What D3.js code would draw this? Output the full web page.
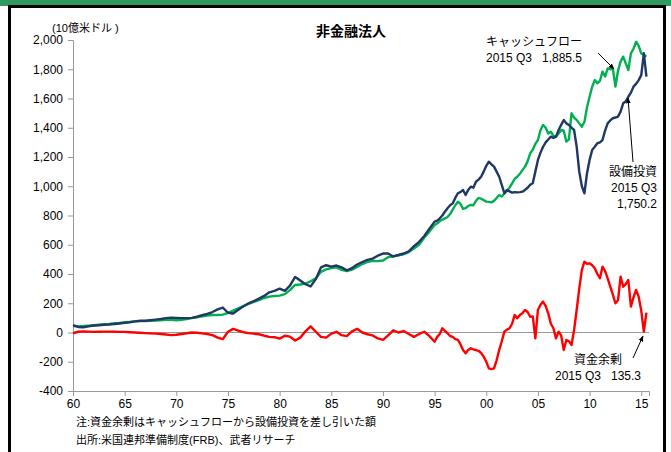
<!DOCTYPE html>
<html>
<head>
<meta charset="utf-8">
<script src="https://cdn.jsdelivr.net/npm/d3@7"></script>
<style>
  body { margin: 0; background: #fff; }
  svg { display: block; font-family: "Liberation Sans", Arial, "Noto Sans CJK JP", sans-serif; }
</style>
</head>
<body>
<svg id="chart" width="671" height="452"></svg>
<script>
// half-year points up to 1994, quarterly points from 1995 (Q3 2015 = 2015.5)
const dates = d3.range(1960, 1995, 0.5).concat(d3.range(1995, 2015.75, 0.25));

// cash flow (green), 10 bn USD
const cashFlow = [
  44, 42, 44, 47, 50, 53, 56, 59, 63, 66,
  70, 73, 76, 78, 78, 80, 82, 84, 86, 86,
  84, 86, 92, 98, 104, 110, 116, 120, 120, 122,
  135, 150, 165, 180, 195, 210, 222, 236, 245, 250,
  252, 262, 290, 325, 328, 335, 350, 370, 415, 432,
  440, 445, 428, 420, 430, 448, 468, 482, 490, 488,
  492, 515, 520, 528, 535, 550, 575, 600, 650, 690,
  735, 745, 760, 772, 780, 790, 810, 840, 870, 894, 880, 845,
  850, 865, 872, 870, 900, 920, 915, 905, 895, 893, 890, 900,
  920, 940, 930, 950, 970, 990, 1020, 1050, 1065, 1085, 1110, 1134,
  1170, 1225, 1250, 1290, 1316, 1385, 1419, 1400, 1360, 1373, 1345, 1339,
  1360, 1385, 1380, 1305, 1320, 1499, 1470, 1453, 1430, 1407, 1440, 1540,
  1612, 1680, 1726, 1704, 1720, 1784, 1750, 1806, 1800, 1806, 1681, 1790,
  1852, 1886, 1840, 1795, 1909, 1940, 1988, 1960, 1909, 1900, 1885.5
];

// capital expenditure (navy)
const capex = [
  50, 38, 36, 42, 48, 50, 53, 55, 58, 62,
  66, 70, 76, 80, 80, 84, 88, 92, 98, 102,
  100, 98, 98, 100, 108, 118, 128, 140, 158, 170,
  135, 130, 155, 180, 200, 215, 232, 250, 275, 285,
  300, 285, 320, 380, 355, 330, 315, 365, 445, 460,
  450, 458, 445, 425, 440, 465, 482, 496, 505, 525,
  540, 540, 520, 530, 540, 555, 590, 620, 660, 710,
  758, 765, 781, 800, 826, 850, 870, 883, 920, 952, 960, 974,
  940, 975, 997, 990, 1031, 1045, 1065, 1100, 1140, 1168, 1150, 1134,
  1100, 1065, 1010, 952, 974, 965, 956, 960, 958, 960, 963, 975,
  990, 1010, 1020, 1100, 1180, 1230, 1270, 1300, 1320, 1339, 1330, 1339,
  1385, 1420, 1453, 1430, 1419, 1400, 1385, 1270, 1100, 1000, 952, 1089,
  1180, 1248, 1270, 1294, 1300, 1316, 1380, 1430, 1450, 1465, 1470, 1476,
  1510, 1567, 1580, 1612, 1640, 1681, 1700, 1726, 1760, 1909, 1750.2
];

// financial surplus (red)
const surplus = [
  -5, 5, 8, 6, 4, 5, 6, 6, 5, 4,
  4, 2, 0, -2, -4, -6, -8, -10, -14, -18,
  -15, -10, -5, 0, -2, -6, -10, -18, -35, -45,
  5, 25, 12, 2, -4, -8, -12, -22, -30, -32,
  -42, -22, -28, -55, -35, 8, 42, 5, -30, -35,
  -8, 5, -18, -25, 8, 25, 0, -12, -20, -40,
  -50, -20, 15, 0, 10, -10, -30, -10, 5, -25,
  -63, -30, -10, 29, 10, -5, -24, -30, -45, -51, -80, -120,
  -142, -120, -108, -115, -120, -125, -140, -165, -200, -245, -250, -245,
  -190, -120, -60, 6, 20, 29, 60, 120, 97, 120, 131, 154,
  140, 108, 110, -40, 154, 190, 211, 180, 131, 60, 29, -40,
  6, -20, -120, -51, -60, -85, 17, 154, 300, 427, 484, 470,
  473, 460, 439, 400, 371, 450, 420, 370, 313, 260, 200, 220,
  382, 313, 330, 359, 177, 240, 291, 245, 150, 6, 135.3
];

const yTicks = d3.range(-400, 2001, 200);
const xTicks = d3.range(1960, 2016, 5);

const svg = d3.select('#chart');

// frame
svg.append('rect').attr('x', 0).attr('y', 0).attr('width', 671).attr('height', 6).attr('fill', '#2e9a5f');
svg.append('line').attr('x1', 8).attr('x2', 666).attr('y1', 6.5).attr('y2', 6.5).attr('stroke', '#000').attr('stroke-width', 3);
svg.append('line').attr('x1', 9.5).attr('x2', 9.5).attr('y1', 5).attr('y2', 452).attr('stroke', '#000').attr('stroke-width', 3);
svg.append('line').attr('x1', 664.5).attr('x2', 664.5).attr('y1', 5).attr('y2', 452).attr('stroke', '#000').attr('stroke-width', 3);

const x = d3.scaleLinear().domain([1960, 2015.75]).range([73, 649]);
const y = d3.scaleLinear().domain([-400, 2000]).range([391, 40]);

// y axis
const yAxis = svg.append('g')
  .attr('transform', 'translate(73,0)')
  .call(d3.axisLeft(y).tickValues(yTicks).tickSize(5).tickPadding(5)
    .tickFormat(d => d3.format(',')(d).replace('−', '-')));
yAxis.select('.domain').attr('stroke', '#999');
yAxis.selectAll('.tick line').attr('stroke', '#999');
yAxis.selectAll('.tick text').attr('fill', '#000').style('font-size', '12px');

// x axis
const xAxis = svg.append('g')
  .attr('transform', 'translate(0,391)')
  .call(d3.axisBottom(x).tickValues(xTicks).tickSize(5).tickPadding(3)
    .tickFormat(d => d3.format('02d')(d % 100)));
xAxis.select('.domain').attr('stroke', '#999');
xAxis.selectAll('.tick line').attr('stroke', '#999');
xAxis.selectAll('.tick text').attr('fill', '#000').style('font-size', '12px');

// zero line
svg.append('line')
  .attr('x1', x(1960)).attr('x2', x(2015.75))
  .attr('y1', y(0)).attr('y2', y(0))
  .attr('stroke', '#999').attr('stroke-width', 1);

const line = d3.line().x((d, i) => x(dates[i])).y(d => y(d));

svg.append('path').datum(cashFlow).attr('d', line)
  .attr('fill', 'none').attr('stroke', '#00b050').attr('stroke-width', 2.4).attr('stroke-linejoin', 'round');
svg.append('path').datum(capex).attr('d', line)
  .attr('fill', 'none').attr('stroke', '#1f3864').attr('stroke-width', 2.4).attr('stroke-linejoin', 'round');
svg.append('path').datum(surplus).attr('d', line)
  .attr('fill', 'none').attr('stroke', '#ff0000').attr('stroke-width', 2.4).attr('stroke-linejoin', 'round');

// texts
svg.append('text').attr('x', 351).attr('y', 36).attr('text-anchor', 'middle')
  .style('font-size', '14px').style('font-weight', 'bold').text('非金融法人');
svg.append('text').attr('x', 52).attr('y', 32)
  .style('font-size', '11px').text('(10億米ドル\u00a0)');

const defs = svg.append('defs');
defs.append('marker').attr('id', 'arr').attr('viewBox', '0 0 10 10')
  .attr('refX', 9).attr('refY', 5).attr('markerWidth', 6).attr('markerHeight', 6)
  .attr('orient', 'auto')
  .append('path').attr('d', 'M0,1L10,5L0,9Z').attr('fill', '#000');

function note(lines, xx, yy, anchor) {
  const t = svg.append('text').attr('text-anchor', anchor).style('font-size', '12px');
  lines.forEach((s, i) => t.append('tspan').attr('x', xx).attr('y', yy + i * 16).text(s));
}
note(['キャッシュフロー', '2015\u00a0Q3\u00a0\u00a0\u00a01,885.5'], 534, 46, 'middle');
note(['設備投資', '2015\u00a0Q3', '1,750.2'], 657, 176, 'end');
note(['資金余剰', '2015\u00a0Q3\u00a0\u00a0\u00a0135.3'], 598, 364, 'middle');

function arrow(x1, y1, x2, y2) {
  svg.append('line').attr('x1', x1).attr('y1', y1).attr('x2', x2).attr('y2', y2)
    .attr('stroke', '#000').attr('stroke-width', 1).attr('marker-end', 'url(#arr)');
}
arrow(598, 53, 614, 69);
arrow(633, 162, 628, 98);
arrow(633, 358, 643, 336);

svg.append('text').attr('x', 76).attr('y', 426).style('font-size', '11px')
  .text('注:資金余剰はキャッシュフローから設備投資を差し引いた額');
svg.append('text').attr('x', 76).attr('y', 444).style('font-size', '11px')
  .text('出所:米国連邦準備制度(FRB)、武者リサーチ');
</script>
</body>
</html>
